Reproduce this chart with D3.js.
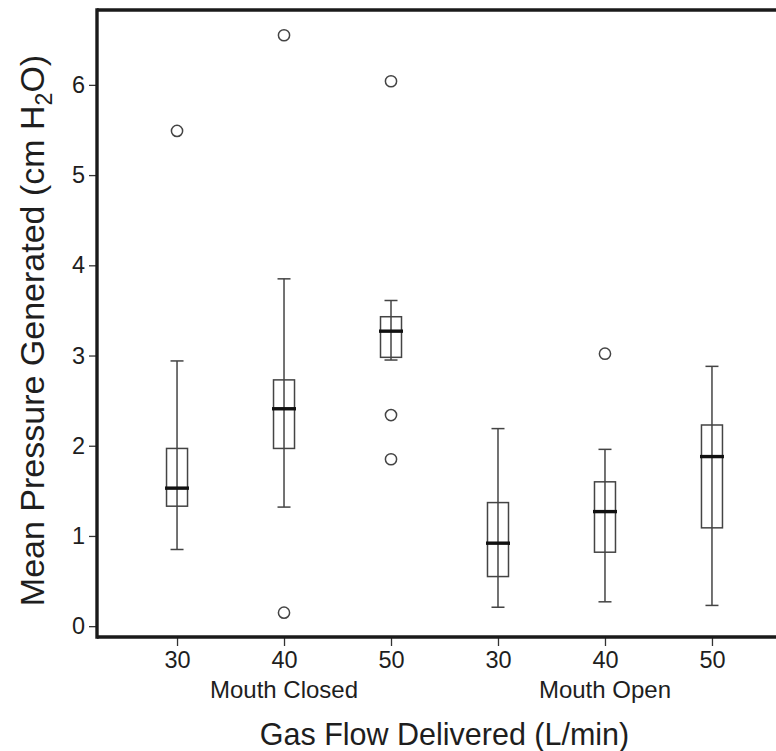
<!DOCTYPE html>
<html>
<head>
<meta charset="utf-8">
<script src="https://cdn.jsdelivr.net/npm/d3@7/dist/d3.min.js"></script>
<style>
  html, body { margin: 0; padding: 0; background: #fff; }
  svg { display: block; font-family: "Liberation Sans", Arial, Helvetica, sans-serif; }
</style>
</head>
<body>
<svg id="chart" width="776" height="751"></svg>
<script>
// Flow settings within each mouth condition
const groups = ["Mouth Closed", "Mouth Open"];
const flows = ["30", "40", "50"];

// Box-plot statistics per (condition, flow), in cm H2O
const whiskerLow  = [0.85, 1.32, 2.95, 0.21, 0.27, 0.23];
const q1          = [1.33, 1.97, 2.98, 0.55, 0.82, 1.09];
const medians     = [1.53, 2.41, 3.27, 0.92, 1.27, 1.88];
const q3          = [1.97, 2.73, 3.43, 1.37, 1.60, 2.23];
const whiskerHigh = [2.94, 3.85, 3.61, 2.19, 1.96, 2.88];
const outliers    = [[5.49], [6.55, 0.15], [6.04, 2.34, 1.85], [], [3.02], []];

const yTicks = [0, 1, 2, 3, 4, 5, 6];

// Build one record per box
const boxes = [];
groups.forEach((g, gi) => {
  flows.forEach((f, fi) => {
    const i = gi * flows.length + fi;
    boxes.push({
      key: g + "|" + f, group: g, flow: f,
      lo: whiskerLow[i], q1: q1[i], med: medians[i], q3: q3[i], hi: whiskerHigh[i],
      out: outliers[i]
    });
  });
});

const svg = d3.select("#chart");
const plot = { left: 97, top: 10, right: 792, bottom: 637 };

const x = d3.scalePoint()
  .domain(boxes.map(d => d.key))
  .range([plot.left, plot.right])
  .padding(0.748);

const y = d3.scaleLinear()
  .domain([-0.12, 6.83])
  .range([plot.bottom, plot.top]);

const boxW = 21, medW = 24, capW = 13;
const ink = "#1e1e1e";
const boxInk = "#444";
const fontStack = "'Liberation Sans', Arial, Helvetica, sans-serif";

const g = svg.append("g");
const b = g.selectAll("g.box").data(boxes).join("g").attr("class", "box");

// Whiskers and caps
b.append("line")
  .attr("x1", d => x(d.key)).attr("x2", d => x(d.key))
  .attr("y1", d => y(d.lo)).attr("y2", d => y(d.hi))
  .attr("stroke", boxInk).attr("stroke-width", 1.5);

b.append("line")
  .attr("x1", d => x(d.key) - capW / 2).attr("x2", d => x(d.key) + capW / 2)
  .attr("y1", d => y(d.hi)).attr("y2", d => y(d.hi))
  .attr("stroke", boxInk).attr("stroke-width", 1.5);

b.append("line")
  .attr("x1", d => x(d.key) - capW / 2).attr("x2", d => x(d.key) + capW / 2)
  .attr("y1", d => y(d.lo)).attr("y2", d => y(d.lo))
  .attr("stroke", boxInk).attr("stroke-width", 1.5);

// Interquartile boxes
b.append("rect")
  .attr("x", d => x(d.key) - boxW / 2)
  .attr("width", boxW)
  .attr("y", d => y(d.q3))
  .attr("height", d => y(d.q1) - y(d.q3))
  .attr("fill", "none")
  .attr("stroke", boxInk).attr("stroke-width", 1.5);

// Medians
b.append("line")
  .attr("x1", d => x(d.key) - medW / 2).attr("x2", d => x(d.key) + medW / 2)
  .attr("y1", d => y(d.med)).attr("y2", d => y(d.med))
  .attr("stroke", "#111").attr("stroke-width", 3.4);

// Outliers
b.selectAll("circle")
  .data(d => d.out.map(v => ({ key: d.key, v })))
  .join("circle")
  .attr("cx", d => x(d.key))
  .attr("cy", d => y(d.v))
  .attr("r", 5.6)
  .attr("fill", "#fff")
  .attr("stroke", boxInk).attr("stroke-width", 1.5);

// Y axis
const yAxis = svg.append("g")
  .attr("transform", `translate(${plot.left},0)`)
  .call(d3.axisLeft(y).tickValues(yTicks).tickFormat(d3.format("d")).tickSize(8).tickPadding(4));
yAxis.select(".domain").remove();
yAxis.selectAll(".tick line").attr("stroke", "#333").attr("stroke-width", 1.3);
yAxis.selectAll(".tick text")
  .attr("fill", ink).style("font-size", "23.5px")
  .style("font-family", fontStack);

// X axis
const xAxis = svg.append("g")
  .attr("transform", `translate(0,${plot.bottom})`)
  .call(d3.axisBottom(x).tickFormat(k => k.split("|")[1]).tickSize(9).tickPadding(5));
xAxis.select(".domain").remove();
xAxis.selectAll(".tick line").attr("stroke", "#333").attr("stroke-width", 1.3);
xAxis.selectAll(".tick text")
  .attr("fill", ink).style("font-size", "23.5px")
  .style("font-family", fontStack);

// Frame: left, top and bottom edges
const frame = svg.append("g").attr("fill", "none").attr("stroke", "#1a1a1a").attr("stroke-width", 3.4);
frame.append("line").attr("x1", plot.left).attr("x2", plot.left)
  .attr("y1", plot.top - 1.7).attr("y2", plot.bottom + 1.7);
frame.append("line").attr("x1", plot.left).attr("x2", plot.right)
  .attr("y1", plot.top).attr("y2", plot.top);
frame.append("line").attr("x1", plot.left).attr("x2", plot.right)
  .attr("y1", plot.bottom).attr("y2", plot.bottom);

// Condition labels under the middle flow of each group
svg.append("g").selectAll("text")
  .data(groups)
  .join("text")
  .attr("x", gname => x(gname + "|" + flows[1]))
  .attr("y", 698)
  .attr("text-anchor", "middle")
  .attr("fill", ink)
  .style("font-size", "24px")
  .text(gname => gname);

// Axis titles
svg.append("text")
  .attr("x", (x(boxes[0].key) + x(boxes[boxes.length - 1].key)) / 2)
  .attr("y", 745)
  .attr("text-anchor", "middle")
  .attr("fill", ink)
  .style("font-size", "30.5px")
  .text("Gas Flow Delivered (L/min)");

const yt = svg.append("text")
  .attr("transform", `translate(44,${(plot.top + plot.bottom) / 2 + 7}) rotate(-90)`)
  .attr("text-anchor", "middle")
  .attr("fill", ink)
  .style("font-size", "34px");
yt.append("tspan").text("Mean Pressure Generated (cm H");
yt.append("tspan").attr("dy", 8).style("font-size", "23px").text("2");
yt.append("tspan").attr("dy", -8).text("O)");
</script>
</body>
</html>
